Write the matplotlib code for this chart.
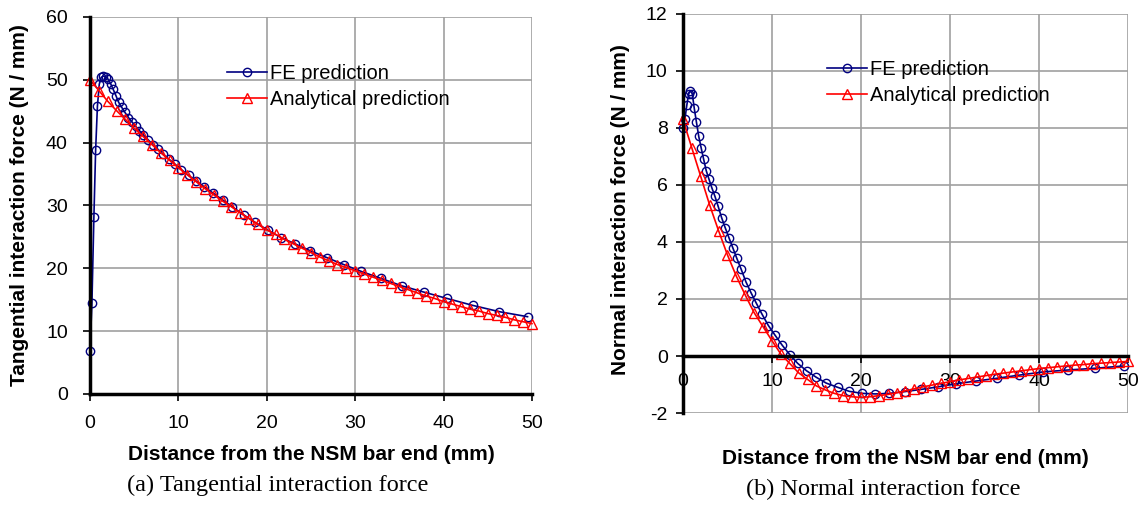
import matplotlib
matplotlib.use("Agg")
import matplotlib.pyplot as plt

# FE node positions (mm), shared by both FE curves
x_fe = [0, 0.22, 0.44, 0.64, 0.84, 1.05, 1.27, 1.52, 1.78, 2.05, 2.33, 2.62,
        2.93, 3.25, 3.6, 3.96, 4.35, 4.75, 5.17, 5.6, 6.05, 6.55, 7.08, 7.65,
        8.25, 8.9, 9.6, 10.35, 11.15, 12.0, 12.9, 13.9, 15.0, 16.1, 17.4,
        18.7, 20.1, 21.6, 23.2, 24.9, 26.8, 28.7, 30.7, 32.9, 35.3, 37.8,
        40.4, 43.3, 46.3, 49.5]

# analytical solution every 1 mm
x_an = list(range(0, 51))

# (a) tangential interaction force (N/mm)
tan_fe = [6.8, 14.5, 28.1, 38.9, 45.8, 49.3, 50.4, 50.6, 50.5, 50.1, 49.4, 48.5,
          47.5, 46.4, 45.6, 44.8, 44.0, 43.3, 42.6, 41.9, 41.2, 40.5, 39.7, 39.0,
          38.2, 37.4, 36.6, 35.7, 34.8, 33.9, 33.0, 32.0, 30.9, 29.8, 28.5,
          27.3, 26.1, 24.9, 23.9, 22.8, 21.7, 20.6, 19.5, 18.4, 17.2, 16.2,
          15.2, 14.1, 13.1, 12.3]
tan_an = [50.0, 48.3, 46.6, 45.1, 43.7, 42.3, 41.0, 39.7, 38.4, 37.2, 36.0,
          34.9, 33.8, 32.7, 31.7, 30.7, 29.8, 28.8, 27.9, 27.0, 26.1,
          25.4, 24.6, 23.9, 23.2, 22.5, 21.8, 21.2, 20.6, 20.1, 19.6,
          19.1, 18.6, 18.1, 17.6, 17.1, 16.6, 16.1, 15.6, 15.2, 14.7,
          14.3, 13.9, 13.5, 13.2, 12.8, 12.5, 12.2, 11.8, 11.5, 11.2]

# (b) normal interaction force (N/mm)
nor_fe = [8.0, 8.3, 8.8, 9.2, 9.3, 9.2, 8.7, 8.2, 7.7, 7.3, 6.9, 6.5,
          6.2, 5.9, 5.6, 5.25, 4.85, 4.5, 4.15, 3.8, 3.43, 3.04, 2.6, 2.22,
          1.85, 1.46, 1.07, 0.73, 0.38, 0.05, -0.26, -0.52, -0.75, -0.95, -1.1,
          -1.24, -1.31, -1.33, -1.31, -1.25, -1.17, -1.08, -0.97, -0.88, -0.78, -0.67,
          -0.56, -0.49, -0.43, -0.35]
nor_an = [8.3, 7.3, 6.3, 5.3, 4.4, 3.55, 2.8, 2.14, 1.52, 1.03, 0.54,
          0.07, -0.26, -0.59, -0.82, -1.05, -1.19, -1.31, -1.39, -1.43, -1.45,
          -1.43, -1.39, -1.35, -1.29, -1.22, -1.15, -1.08, -1.02, -0.96, -0.90,
          -0.84, -0.79, -0.74, -0.69, -0.64, -0.60, -0.56, -0.52, -0.48, -0.44,
          -0.41, -0.38, -0.35, -0.32, -0.30, -0.27, -0.25, -0.23, -0.21, -0.19]

plt.rcParams['font.family'] = ['Liberation Sans', 'DejaVu Sans']
plt.rcParams['axes.unicode_minus'] = False

navy = '#000080'
red = '#ff0000'
grid_c = '#a0a0a0'

fig = plt.figure(figsize=(11.42, 5.15), dpi=100)
ax1 = fig.add_axes([0.0788, 0.235, 0.387, 0.732])
ax2 = fig.add_axes([0.598, 0.198, 0.3897, 0.775])


def style(ax, xpad, ypad):
    for s in ['top', 'right']:
        ax.spines[s].set_visible(False)
    for s in ['left', 'bottom']:
        ax.spines[s].set_linewidth(2.5)
        ax.spines[s].set_color('black')
    ax.grid(True, color=grid_c, linewidth=1.2)
    ax.set_axisbelow(True)
    ax.tick_params(direction='out', length=5, width=1.2, labelsize=14)
    ax.tick_params(axis='x', pad=xpad)
    ax.tick_params(axis='y', pad=ypad)


def draw(ax, y_fe, y_an):
    ax.plot(x_fe, y_fe, color=navy, lw=1.2, marker='o', ms=6,
            mfc='none', mec=navy, mew=1.0, label='FE prediction', clip_on=False)
    ax.plot(x_an, y_an, color=red, lw=1.2, marker='^', ms=7.5,
            mfc='none', mec=red, mew=1.0, label='Analytical prediction', clip_on=False)


lab_kw = dict(fontsize=15, fontweight='bold')
leg_kw = dict(loc='upper left', frameon=False, fontsize=14.5, handlelength=2.0,
              handletextpad=0.15, labelspacing=0.35, borderpad=0, borderaxespad=0)

# (a)
draw(ax1, tan_fe, tan_an)
style(ax1, 10, 11)
ax1.set_xlim(0, 50)
ax1.set_ylim(0, 60)
ax1.set_xticks(range(0, 51, 10))
ax1.set_yticks(range(0, 61, 10))
ax1.set_xlabel('Distance from the NSM bar end (mm)', **lab_kw)
ax1.set_ylabel('Tangential interaction force (N / mm)', **lab_kw)
ax1.xaxis.set_label_coords(0.5, -0.135)
ax1.yaxis.set_label_coords(-0.138, 0.5)
ax1.legend(bbox_to_anchor=(0.31, 0.875), **leg_kw)

# (b)
draw(ax2, nor_fe, nor_an)
style(ax2, 7, 6)
ax2.set_xlim(0, 50)
ax2.set_ylim(-2, 12)
ax2.set_xticks(range(0, 51, 10))
ax2.set_yticks(range(-2, 13, 2))
ax2.spines['bottom'].set_position(('data', 0))
ax2.set_xlabel('Distance from the NSM bar end (mm)', **lab_kw)
ax2.set_ylabel('Normal interaction force (N / mm)', **lab_kw)
ax2.xaxis.set_label_coords(0.5, -0.09)
ax2.yaxis.set_label_coords(-0.12, 0.51)
ax2.legend(bbox_to_anchor=(0.324, 0.885), **leg_kw)

fig.text(278 / 1142, 1 - 485 / 515, '(a) Tangential interaction force',
         family='Liberation Serif', fontsize=17.5, ha='center', va='center')
fig.text(883 / 1142, 1 - 489 / 515, '(b) Normal interaction force',
         family='Liberation Serif', fontsize=17.5, ha='center', va='center')

fig.savefig('out.png', dpi=100)
